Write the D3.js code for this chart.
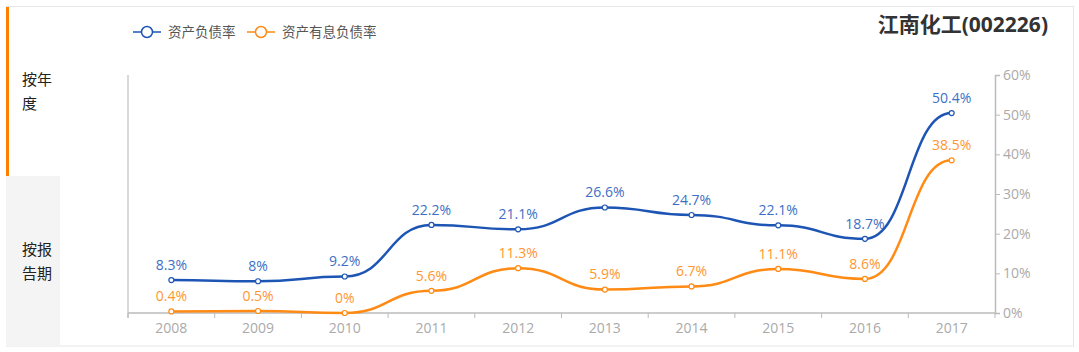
<!DOCTYPE html>
<html>
<head>
<meta charset="utf-8">
<script src="https://cdn.jsdelivr.net/npm/d3@7/dist/d3.min.js"></script>
<style>
  body { margin: 0; background: #fff; }
  svg text { font-family: "Open Sans", "Noto Sans CJK SC", sans-serif; }
</style>
</head>
<body>
<div class="canva"></div>
<script>
// data
const years = ["2008", "2009", "2010", "2011", "2012", "2013", "2014", "2015", "2016", "2017"];
const debtRatio = [8.3, 8, 9.2, 22.2, 21.1, 26.6, 24.7, 22.1, 18.7, 50.4];
const interestDebtRatio = [0.4, 0.5, 0, 5.6, 11.3, 5.9, 6.7, 11.1, 8.6, 38.5];
const yTicks = [0, 10, 20, 30, 40, 50, 60];
const seriesNames = ["资产负债率", "资产有息负债率"];
const title = "江南化工(002226)";

const W = 1079, H = 352;
const blue = "#1d55b4", orange = "#ff8a14";
const blueLabel = "#3d6fc6", orangeLabel = "#ff9630";

const svg = d3.select(".canva").append("svg")
    .attr("width", W)
    .attr("height", H);

// outer frame
svg.append("rect")
    .attr("x", 6.5).attr("y", 6.5)
    .attr("width", 1067).attr("height", 339.5)
    .attr("fill", "#fff")
    .attr("stroke", "#e6e6e6");

// side tabs
svg.append("rect")
    .attr("x", 6).attr("y", 176)
    .attr("width", 54).attr("height", 170)
    .attr("fill", "#f4f4f4");
svg.append("rect")
    .attr("x", 6).attr("y", 7)
    .attr("width", 3).attr("height", 169)
    .attr("fill", "#ff7f00");

const tabs = [["按年", "度"], ["按报", "告期"]];
const tabY = [80, 250];
tabs.forEach((lines, i) => {
    lines.forEach((t, j) => {
        svg.append("text")
            .attr("x", 22)
            .attr("y", tabY[i] + j * 24)
            .attr("dy", "0.35em")
            .attr("font-size", 15)
            .attr("fill", "#222")
            .text(t);
    });
});

// title
svg.append("text")
    .attr("x", 1048).attr("y", 25)
    .attr("dy", "0.35em")
    .attr("text-anchor", "end")
    .attr("font-size", 21)
    .attr("font-weight", "bold")
    .attr("fill", "#333")
    .text(title);

// scales
const margin = {left: 128, right: 995, top: 75, bottom: 313};
const x = d3.scaleBand().domain(years).range([margin.left, margin.right]);
const y = d3.scaleLinear().domain([0, 60]).range([margin.bottom, margin.top]);
const cx = d => x(d) + x.bandwidth() / 2;

// left axis line
svg.append("line")
    .attr("x1", margin.left).attr("x2", margin.left)
    .attr("y1", margin.top).attr("y2", margin.bottom + 5)
    .attr("stroke", "#ccc").attr("stroke-width", 1.5);

// x axis
const xAxis = svg.append("g")
    .attr("transform", `translate(0, ${margin.bottom})`);
xAxis.append("line")
    .attr("x1", margin.left).attr("x2", margin.right)
    .attr("stroke", "#bbb").attr("stroke-width", 1.5);
const bounds = years.map(d => x(d)).concat([margin.right]);
xAxis.selectAll(".tk").data(bounds).enter().append("line")
    .attr("x1", d => d).attr("x2", d => d)
    .attr("y1", 0).attr("y2", 5)
    .attr("stroke", "#bbb");
xAxis.selectAll(".lb").data(years).enter().append("text")
    .attr("x", d => cx(d))
    .attr("y", 15)
    .attr("dy", "0.35em")
    .attr("text-anchor", "middle")
    .attr("font-size", 14)
    .attr("fill", "#aaa")
    .text(d => d);

// right y axis
const yAxis = svg.append("g")
    .attr("transform", `translate(${margin.right}, 0)`)
    .call(d3.axisRight(y).tickValues(yTicks).tickSize(5).tickFormat(d => d + "%"));
yAxis.select(".domain").attr("stroke", "#bbb").attr("stroke-width", 1.5);
yAxis.selectAll(".tick line").attr("stroke", "#bbb");
yAxis.selectAll(".tick text")
    .attr("x", 8)
    .attr("font-size", 14)
    .attr("fill", "#aaa")
    .style("font-family", '"Open Sans", "Noto Sans CJK SC", sans-serif');

// lines - flat tangent at every point, like the original
const line = d3.line()
    .x((d, i) => cx(years[i]))
    .y(d => y(d))
    .curve(d3.curveBumpX);

const series = [
    {vals: debtRatio, color: blue, label: blueLabel},
    {vals: interestDebtRatio, color: orange, label: orangeLabel}
];

series.forEach(s => {
    svg.append("path")
        .datum(s.vals)
        .attr("d", line)
        .attr("fill", "none")
        .attr("stroke", s.color)
        .attr("stroke-width", 2.5);
    svg.selectAll(null).data(s.vals).enter().append("circle")
        .attr("cx", (d, i) => cx(years[i]))
        .attr("cy", d => y(d))
        .attr("r", 2.5)
        .attr("fill", "#fff")
        .attr("stroke", s.color)
        .attr("stroke-width", 1.2);
    svg.selectAll(null).data(s.vals).enter().append("text")
        .attr("x", (d, i) => cx(years[i]))
        .attr("y", d => y(d) - 15)
        .attr("dy", "0.35em")
        .attr("text-anchor", "middle")
        .attr("font-size", 14)
        .attr("fill", s.label)
        .text(d => d + "%");
});

// legend
const legend = svg.append("g").attr("transform", "translate(133, 32)");
const legendX = [0, 114];
seriesNames.forEach((name, i) => {
    const c = i === 0 ? blue : orange;
    const g = legend.append("g").attr("transform", `translate(${legendX[i]}, 0)`);
    g.append("line").attr("x1", 0).attr("x2", 28)
        .attr("stroke", c).attr("stroke-width", 1.5);
    g.append("circle").attr("cx", 14).attr("r", 5.5)
        .attr("fill", "#fff").attr("stroke", c).attr("stroke-width", 1.5);
    g.append("text").attr("x", 35).attr("dy", "0.35em")
        .attr("font-size", 13.5).attr("fill", "#555")
        .text(name);
});
</script>
</body>
</html>
